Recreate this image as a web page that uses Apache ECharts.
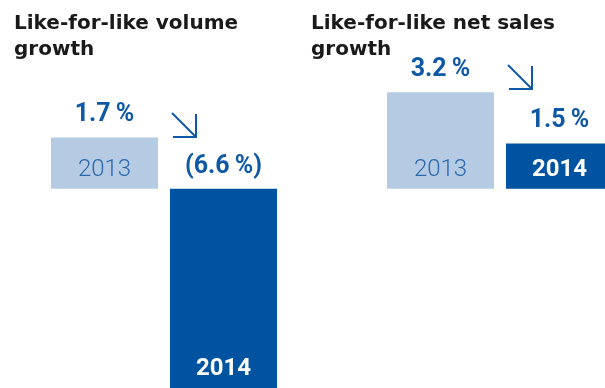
<!DOCTYPE html>
<html>
<head>
<meta charset="utf-8">
<script src="https://cdn.jsdelivr.net/npm/echarts@6/dist/echarts.min.js"></script>
<style>
html,body{margin:0;padding:0;background:#fff;}
#c{width:605px;height:388px;}
</style>
</head>
<body>
<div id="c"></div>
<script>
// ---- data ----
const years = ['2013', '2014'];
const volumeGrowth = [1.7, -6.6];
const salesGrowth = [3.2, 1.5];
const titles = ['Like-for-like volume\ngrowth', 'Like-for-like net sales\ngrowth'];

// ---- styles ----
const DARK = '#0053A0';
const LIGHT = '#B4CBE3';
const LABEL_BLUE = '#0F58A5';
const YEAR_BLUE = '#2C68AC';
const FONT = 'Roboto';
const TITLE_FONT = 'DejaVu Sans';

function fmt(v) {
  const s = Math.abs(v).toFixed(1) + '\u2009%';
  return v < 0 ? '(' + s + ')' : s;
}

function barData(vals) {
  return vals.map((v, i) => ({
    value: [i, v],
    itemStyle: { color: i === 0 ? LIGHT : DARK },
    label: i === 0
      ? { color: YEAR_BLUE, fontWeight: 300 }
      : { color: '#ffffff', fontWeight: 'bold' }
  }));
}

function seriesFor(vals, idx) {
  return [
    {
      type: 'bar', xAxisIndex: idx, yAxisIndex: idx,
      barWidth: 107, barGap: '-100%', clip: false,
      data: barData(vals),
      silent: true,
      label: {
        show: true, position: 'insideBottom', distance: 7,
        fontFamily: FONT, fontSize: 24,
        formatter: p => years[p.dataIndex]
      }
    },
    {
      type: 'bar', xAxisIndex: idx, yAxisIndex: idx,
      barWidth: 107, barGap: '-100%', clip: false,
      data: vals.map((v, i) => [i, v]),
      silent: true,
      itemStyle: { color: 'rgba(0,0,0,0)' },
      label: {
        show: true, position: 'top', distance: 10,
        fontFamily: FONT, fontSize: 25, fontWeight: 'bold', color: LABEL_BLUE,
        formatter: p => fmt(p.value[1])
      }
    }
  ];
}

function arrow(x, y, s) {
  return {
    type: 'group', x: x, y: y, silent: true,
    children: [
      { type: 'line', shape: { x1: 0, y1: 0, x2: s, y2: s }, style: { stroke: LABEL_BLUE, lineWidth: 2 } },
      { type: 'polyline', shape: { points: [[s, 1], [s, s], [1, s]] }, style: { stroke: LABEL_BLUE, lineWidth: 2, fill: null } }
    ]
  };
}

const chart = echarts.init(document.getElementById('c'), null, { renderer: 'canvas' });
const yAxisBase = { type: 'value', min: -6.6, max: 4, show: false, splitLine: { show: false } };
const titleStyle = { fontFamily: TITLE_FONT, fontSize: 20, fontWeight: 'bold', color: '#1a1a1a', lineHeight: 26 };

chart.setOption({
  animation: false,
  title: [
    { text: titles[0], left: 9, top: 6, textStyle: titleStyle },
    { text: titles[1], left: 306, top: 6, textStyle: titleStyle }
  ],
  grid: [
    { left: 45, width: 238, top: 68, bottom: 0 },
    { left: 381, width: 224, top: 68, bottom: 0 }
  ],
  xAxis: [
    { type: 'value', gridIndex: 0, min: -0.5, max: 1.5, show: false, splitLine: { show: false } },
    { type: 'value', gridIndex: 1, min: -0.5, max: -0.5 + 224 / 119, show: false, splitLine: { show: false } }
  ],
  yAxis: [Object.assign({ gridIndex: 0 }, yAxisBase), Object.assign({ gridIndex: 1 }, yAxisBase)],
  series: seriesFor(volumeGrowth, 0).concat(seriesFor(salesGrowth, 1)),
  graphic: [arrow(172, 113, 24), arrow(508, 65, 24)]
});
</script>
</body>
</html>
